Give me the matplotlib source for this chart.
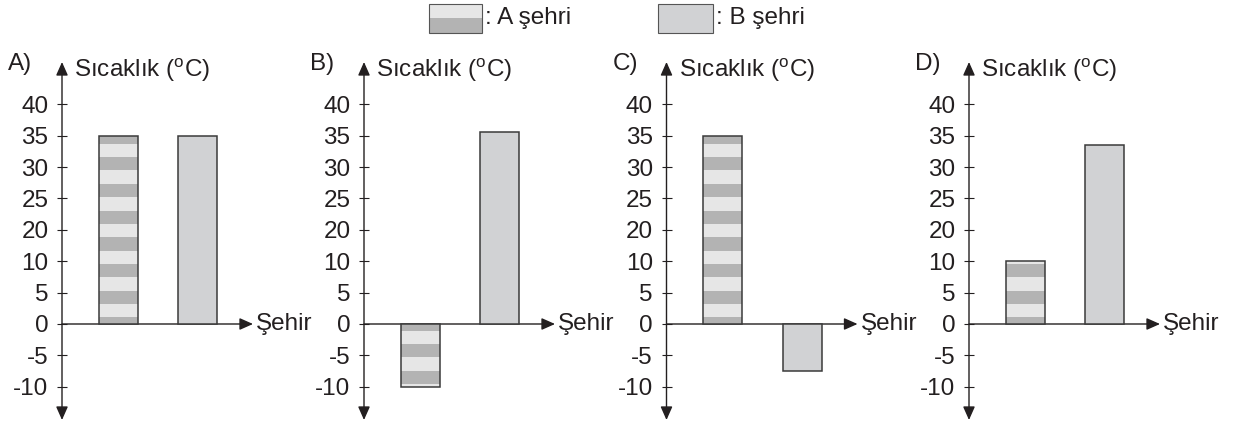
import numpy as np
import matplotlib
matplotlib.use("Agg")
import matplotlib.pyplot as plt
from matplotlib.patches import Rectangle

# ---------------- data ----------------
panel_labels = ["A)", "B)", "C)", "D)"]
city_a = [35, -10, 35, 10]          # A şehri
city_b = [35, 35.5, -7.5, 33.5]     # B şehri
tick_values = [-10, -5, 0, 5, 10, 20, 25, 30, 35, 40]
y_title = "Sıcaklık ($\\mathregular{^o}$C)"
x_title = "Şehir"
legend_labels = [": A şehri", ": B şehri"]

# ---------------- style ----------------
plt.rcParams['font.family'] = ['Liberation Sans', 'DejaVu Sans']
plt.rcParams['mathtext.fontset'] = 'custom'
plt.rcParams['mathtext.rm'] = 'Liberation Sans'
INK = '#231f20'
LIGHT = '#e6e6e6'
DARK = '#b3b3b3'
BGRAY = '#d1d2d4'
EDGE = '#3a3a3a'
FS = 17.5

W, H = 1239, 424
fig = plt.figure(figsize=(W / 100, H / 100), dpi=100)

# equally spaced tick positions (axis is drawn with evenly spaced labels)
tick_pos = np.arange(len(tick_values)) - tick_values.index(0)
vals_ext = np.concatenate([[tick_values[0] - 10], tick_values, [tick_values[-1] + 10]])
pos_ext = np.concatenate([[tick_pos[0] - 2], tick_pos, [tick_pos[-1] + 2]])


def fwd(v):
    return np.interp(v, vals_ext, pos_ext)


def inv(p):
    return np.interp(p, pos_ext, vals_ext)


UNIT_X = 79.5          # px per category
STEP_Y = 31.4          # px per tick step
ZERO_PX = 324          # y pixel (from top) of zero
AX_TOP, AX_BOT = 60, 424
axis_px = [62, 364, 666.5, 969]
xa = 1 - 56 / UNIT_X   # x position of vertical axis in data units
cats = [1, 2]
bar_w = 39 / UNIT_X

p_top = (ZERO_PX - AX_TOP) / STEP_Y
p_bot = -(AX_BOT - ZERO_PX) / STEP_Y

period = 26.7 / STEP_Y
half_band = 6.67 / STEP_Y

for i, apx in enumerate(axis_px):
    left_px = apx - xa * UNIT_X
    ax = fig.add_axes([left_px / W, (H - AX_BOT) / H, 3 * UNIT_X / W, (AX_BOT - AX_TOP) / H])
    ax.set_yscale('function', functions=(fwd, inv))
    ax.set_xlim(0, 3)
    ax.set_ylim(inv(p_bot), inv(p_top))
    ax.patch.set_alpha(0)
    for s in ['top', 'right', 'bottom']:
        ax.spines[s].set_visible(False)
    ax.spines['left'].set_position(('data', xa))
    ax.spines['left'].set_visible(False)
    ax.set_xticks([])
    ax.set_yticks(tick_values)
    ax.set_yticklabels([str(t) for t in tick_values])
    ax.yaxis.set_minor_locator(matplotlib.ticker.NullLocator())
    ax.tick_params(axis='y', direction='inout', length=7.5, width=0.8, color=INK,
                   labelsize=FS, labelcolor=INK, pad=6)

    # axes arrows
    ax.annotate('', xy=(xa, (AX_BOT - 62) / (AX_BOT - AX_TOP)),
                xytext=(xa, (AX_BOT - 420) / (AX_BOT - AX_TOP)),
                xycoords=('data', 'axes fraction'), textcoords=('data', 'axes fraction'),
                arrowprops=dict(arrowstyle='<|-|>,head_length=0.45,head_width=0.2',
                                mutation_scale=18, color=INK, lw=1.0,
                                shrinkA=0, shrinkB=0))
    ax.annotate('', xy=(xa + 191 / UNIT_X, 0), xytext=(xa, 0),
                arrowprops=dict(arrowstyle='-|>,head_length=0.45,head_width=0.2',
                                mutation_scale=18, color=INK, lw=1.0,
                                shrinkA=0, shrinkB=0))

    # bar A (striped)
    va = city_a[i]
    bars_a = ax.bar([cats[0]], [va], width=bar_w, color=LIGHT, edgecolor='none', zorder=2)
    clip = bars_a[0]
    p0, p1 = sorted([0.0, float(fwd(va))])
    k0 = int(np.floor(p0 / period)) - 1
    k1 = int(np.ceil(p1 / period)) + 1
    for k in range(k0, k1 + 1):
        lo = k * period - half_band
        hi = k * period + half_band
        r = Rectangle((cats[0] - bar_w / 2, inv(lo)), bar_w, inv(hi) - inv(lo),
                      facecolor=DARK, edgecolor='none', zorder=3)
        ax.add_patch(r)
        r.set_clip_path(clip)
    ax.bar([cats[0]], [va], width=bar_w, facecolor='none', edgecolor=EDGE, lw=1.1, zorder=4)

    # bar B
    ax.bar([cats[1]], [city_b[i]], width=bar_w, color=BGRAY, edgecolor=EDGE, lw=1.1, zorder=4)

    # texts
    fig.text((apx - 54) / W, 1 - 64 / H, panel_labels[i], fontsize=FS, color=INK,
             ha='left', va='center')
    fig.text((apx + 12) / W, 1 - 70 / H, y_title, fontsize=FS, color=INK,
             ha='left', va='center')
    fig.text((apx + 194) / W, 1 - 324 / H, x_title, fontsize=FS, color=INK,
             ha='left', va='center')

# ---------------- legend ----------------
def px_rect(x0, y0, x1, y1, **kw):
    return Rectangle((x0 / W, 1 - y1 / H), (x1 - x0) / W, (y1 - y0) / H,
                     transform=fig.transFigure, **kw)

fig.patches.append(px_rect(429, 4, 482, 18, facecolor=LIGHT, edgecolor='none'))
fig.patches.append(px_rect(429, 18, 482, 33, facecolor=DARK, edgecolor='none'))
fig.patches.append(px_rect(429, 4, 482, 33, facecolor='none', edgecolor='#555555', lw=0.8))
fig.text(485 / W, 1 - 18 / H, legend_labels[0], fontsize=FS, color=INK, ha='left', va='center')

fig.patches.append(px_rect(658, 4, 713, 33, facecolor=BGRAY, edgecolor='#555555', lw=0.8))
fig.text(716 / W, 1 - 18 / H, legend_labels[1], fontsize=FS, color=INK, ha='left', va='center')

fig.savefig('out.png', dpi=100)
